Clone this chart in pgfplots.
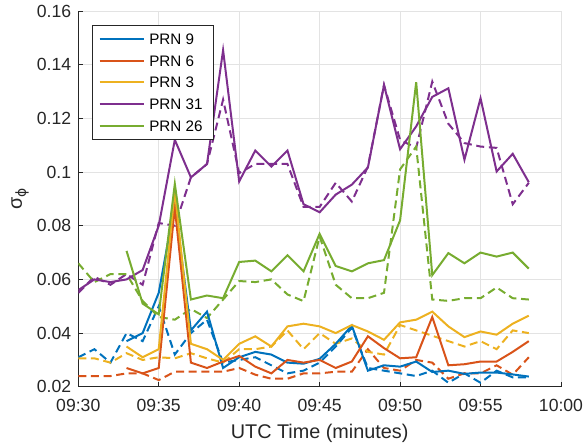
\documentclass[border=0pt]{standalone}
\usepackage{pgfplots}
\pgfplotsset{compat=1.18}
\usepackage{fontspec}
\setmainfont{Liberation Sans}
\newfontfamily\dejavu{DejaVu Sans}
\newcommand\lf{\fontsize{11.4}{13}\selectfont}
\definecolor{cb}{rgb}{0,0.447,0.741}
\definecolor{co}{rgb}{0.850,0.325,0.098}
\definecolor{cy}{rgb}{0.929,0.694,0.125}
\definecolor{cp}{rgb}{0.494,0.184,0.556}
\definecolor{cg}{rgb}{0.466,0.674,0.188}
\pgfplotstableread{
x y
3 0.037
4 0.040
5 0.055
6 0.088
7 0.041
8 0.048
9 0.027
10 0.031
11 0.033
12 0.032
13 0.029
14 0.0286
15 0.0304
16 0.036
17 0.0428
18 0.026
19 0.028
20 0.0275
21 0.0294
22 0.0255
23 0.026
24 0.0248
25 0.0253
26 0.0253
27 0.0246
28 0.0238
}\ninesolid
\pgfplotstableread{
x y
0 0.031
1 0.034
2 0.029
3 0.040
4 0.037
5 0.050
6 0.032
7 0.040
8 0.045
9 0.029
10 0.030
11 0.031
12 0.028
13 0.025
14 0.026
15 0.029
16 0.035
17 0.042
18 0.027
19 0.026
20 0.025
21 0.024
22 0.026
23 0.0215
24 0.025
25 0.0215
26 0.026
27 0.0235
28 0.0235
}\ninedash
\pgfplotstableread{
x y
3 0.027
4 0.025
5 0.027
6 0.0868
7 0.029
8 0.027
9 0.0294
10 0.0315
11 0.0275
12 0.025
13 0.030
14 0.029
15 0.030
16 0.027
17 0.0294
18 0.0388
19 0.0344
20 0.0306
21 0.031
22 0.046
23 0.028
24 0.0284
25 0.0294
26 0.0294
27 0.033
28 0.037
}\sixsolid
\pgfplotstableread{
x y
0 0.024
1 0.024
2 0.024
3 0.025
4 0.025
5 0.0225
6 0.0256
7 0.0256
8 0.0256
9 0.0256
10 0.027
11 0.0245
12 0.023
13 0.023
14 0.025
15 0.025
16 0.0256
17 0.0256
18 0.034
19 0.027
20 0.026
21 0.030
22 0.029
23 0.023
24 0.025
25 0.025
26 0.028
27 0.0245
28 0.031
}\sixdash
\pgfplotstableread{
x y
3 0.035
4 0.031
5 0.034
6 0.093
7 0.036
8 0.034
9 0.030
10 0.036
11 0.0388
12 0.035
13 0.0425
14 0.0435
15 0.0425
16 0.040
17 0.043
18 0.0406
19 0.0375
20 0.044
21 0.045
22 0.048
23 0.0425
24 0.0385
25 0.0406
26 0.0394
27 0.0435
28 0.0465
}\threesolid
\pgfplotstableread{
x y
0 0.0306
1 0.0306
2 0.029
3 0.0325
4 0.030
5 0.031
6 0.0306
7 0.0325
8 0.0306
9 0.029
10 0.034
11 0.034
12 0.035
13 0.041
14 0.034
15 0.040
16 0.036
17 0.038
18 0.033
19 0.032
20 0.043
21 0.041
22 0.039
23 0.037
24 0.035
25 0.037
26 0.034
27 0.041
28 0.040
}\threedash
\pgfplotstableread{
x y
0 0.056
1 0.060
2 0.059
3 0.060
4 0.0635
5 0.080
6 0.112
7 0.098
8 0.103
9 0.1454
10 0.0965
11 0.108
12 0.102
13 0.108
14 0.088
15 0.085
16 0.0916
17 0.0953
18 0.1017
19 0.1324
20 0.1085
21 0.117
22 0.128
23 0.1312
24 0.1046
25 0.1275
26 0.1002
27 0.1068
28 0.0962
}\thirtyonesolid
\pgfplotstableread{
x y
0 0.055
1 0.061
2 0.058
3 0.062
4 0.058
5 0.081
6 0.080
7 0.098
8 0.103
9 0.127
10 0.0996
11 0.103
12 0.103
13 0.103
14 0.087
15 0.087
16 0.096
17 0.089
18 0.102
19 0.1324
20 0.112
21 0.109
22 0.1337
23 0.118
24 0.1108
25 0.1095
26 0.109
27 0.088
28 0.096
}\thirtyonedash
\pgfplotstableread{
x y
3 0.0706
4 0.051
5 0.047
6 0.0956
7 0.0525
8 0.054
9 0.053
10 0.0665
11 0.067
12 0.063
13 0.069
14 0.063
15 0.077
16 0.065
17 0.063
18 0.066
19 0.0672
20 0.082
21 0.1335
22 0.0616
23 0.0698
24 0.066
25 0.070
26 0.0685
27 0.070
28 0.064
}\twentysixsolid
\pgfplotstableread{
x y
0 0.066
1 0.059
2 0.062
3 0.062
4 0.052
5 0.046
6 0.045
7 0.049
8 0.0456
9 0.0525
10 0.0594
11 0.059
12 0.060
13 0.0544
14 0.0519
15 0.076
16 0.058
17 0.053
18 0.053
19 0.055
20 0.101
21 0.1095
22 0.0525
23 0.052
24 0.053
25 0.053
26 0.057
27 0.053
28 0.0525
}\twentysixdash
\begin{document}
\begin{tikzpicture}
\begin{axis}[
  scale only axis, width=362pt, height=281.8pt,
  xmin=0, xmax=30, ymin=0.02, ymax=0.16,
  axis x line*=bottom, axis y line*=left,
  axis line style={-, draw=black!85, line width=0.6pt},
  tick align=inside, major tick length=3.5pt,
  tick style={draw=black!85, line width=0.6pt},
  xtick={0,5,10,15,20,25,30},
  xticklabels={09:30,09:35,09:40,09:45,09:50,09:55,10:00},
  ytick={0.02,0.04,0.06,0.08,0.1,0.12,0.14,0.16},
  yticklabels={0.02,0.04,0.06,0.08,0.1,0.12,0.14,0.16},
  grid=major, major grid style={draw=black!11, line width=0.6pt},
  ticklabel style={font=\fontsize{13.2}{15}\selectfont, text=black!85},
  xticklabel style={yshift=-5.6pt},
  yticklabel style={xshift=-1.8pt},
  xlabel={UTC Time (minutes)},
  xlabel style={at={(axis description cs:0.5,-0.1366)}, anchor=base, font=\fontsize{14.85}{17}\selectfont, text=black!85},
  ylabel={σ\textsubscript{\dejavu ϕ}},
  ylabel style={at={(axis description cs:-0.1207,0.5)}, anchor=center, font=\fontsize{14.85}{17}\selectfont, text=black!85},
  legend style={at={(axis description cs:0.029,0.963)}, anchor=north west, draw=black!85, line width=0.6pt, fill=white,
    inner xsep=4.5pt, inner ysep=2.1pt, row sep=0pt,
    nodes={inner xsep=3.5pt, inner ysep=4.05pt, text height=8.2pt, text depth=0pt}},
  legend image code/.code={\draw[#1] (0pt,0pt) -- (33pt,0pt);},
  legend cell align=left,
  every axis plot/.append style={line width=1.5pt},
]
\addplot[cb, forget plot, dash pattern=on 6pt off 3.5pt] table {\ninedash};
\addplot[co, forget plot, dash pattern=on 6pt off 3.5pt] table {\sixdash};
\addplot[cy, forget plot, dash pattern=on 6pt off 3.5pt] table {\threedash};
\addplot[cp, forget plot, dash pattern=on 6pt off 3.5pt] table {\thirtyonedash};
\addplot[cg, forget plot, dash pattern=on 6pt off 3.5pt] table {\twentysixdash};
\addplot[cb] table {\ninesolid};
\addplot[co] table {\sixsolid};
\addplot[cy] table {\threesolid};
\addplot[cp] table {\thirtyonesolid};
\addplot[cg] table {\twentysixsolid};
\legend{\lf PRN 9, \lf PRN 6, \lf PRN 3, \lf PRN 31, \lf PRN 26}
\end{axis}
\pgfresetboundingbox
\path[use as bounding box] (-58.7pt,-44.5pt) rectangle (378.5pt,290.05pt);
\end{tikzpicture}
\end{document}
